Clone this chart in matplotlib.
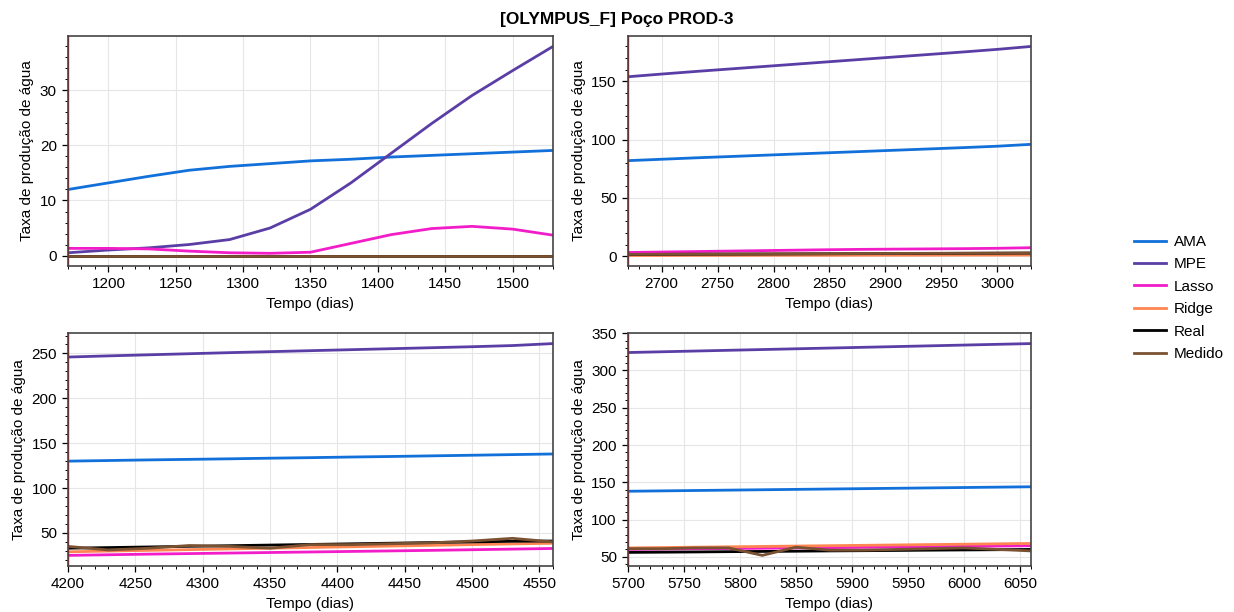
import matplotlib
matplotlib.use('Agg')
import matplotlib.pyplot as plt
from matplotlib.ticker import MultipleLocator

plt.rcParams['font.family'] = ['Liberation Sans', 'DejaVu Sans']
plt.rcParams['font.size'] = 11

# janelas de previsao (dias)
dias_1 = [1170, 1200, 1230, 1260, 1290, 1320, 1350, 1380, 1410, 1440, 1470, 1500, 1530]
dias_2 = [2670, 2700, 2730, 2760, 2790, 2820, 2850, 2880, 2910, 2940, 2970, 3000, 3030]
dias_3 = [4200, 4230, 4260, 4290, 4320, 4350, 4380, 4410, 4440, 4470, 4500, 4530, 4560]
dias_4 = [5700, 5730, 5760, 5790, 5820, 5850, 5880, 5910, 5940, 5970, 6000, 6030, 6060]

# janela 1
ama_1 = [12.0, 13.2, 14.4, 15.5, 16.2, 16.7, 17.2, 17.5, 17.9, 18.2, 18.5, 18.8, 19.1]
mpe_1 = [0.5, 1.0, 1.4, 2.0, 2.9, 5.0, 8.4, 13.2, 18.6, 24.0, 29.1, 33.6, 38.0]
lasso_1 = [1.3, 1.3, 1.2, 0.8, 0.5, 0.4, 0.6, 2.2, 3.8, 4.9, 5.3, 4.8, 3.7]
ridge_1 = [0.0, 0.0, 0.0, 0.0, 0.0, 0.0, 0.0, 0.0, 0.0, 0.0, 0.0, 0.0, 0.0]
real_1 = [0.0, 0.0, 0.0, 0.0, 0.0, 0.0, 0.0, 0.0, 0.0, 0.0, 0.0, 0.0, 0.0]
medido_1 = [0.0, 0.0, 0.0, 0.0, 0.0, 0.0, 0.0, 0.0, 0.0, 0.0, 0.0, 0.0, 0.0]

# janela 2
ama_2 = [82.0, 83.2, 84.4, 85.5, 86.6, 87.7, 88.8, 89.9, 91.0, 92.1, 93.2, 94.4, 96.0]
mpe_2 = [154.0, 156.3, 158.5, 160.6, 162.7, 164.8, 166.9, 169.0, 171.1, 173.2, 175.3, 177.5, 180.0]
lasso_2 = [3.2, 3.6, 4.0, 4.4, 4.8, 5.2, 5.6, 5.9, 6.1, 6.3, 6.5, 6.8, 7.3]
ridge_2 = [0.6, 0.6, 0.7, 0.7, 0.8, 0.8, 0.8, 0.9, 0.9, 0.9, 1.0, 1.0, 1.0]
real_2 = [1.5, 1.6, 1.7, 1.8, 1.9, 2.0, 2.1, 2.2, 2.3, 2.4, 2.5, 2.6, 2.7]
medido_2 = [1.6, 1.7, 1.8, 1.9, 2.0, 2.1, 2.2, 2.3, 2.4, 2.5, 2.6, 2.7, 2.8]

# janela 3
ama_3 = [130.0, 130.7, 131.4, 132.0, 132.6, 133.3, 133.9, 134.6, 135.2, 135.9, 136.6, 137.3, 138.0]
mpe_3 = [246.0, 247.3, 248.5, 249.7, 250.9, 252.0, 253.1, 254.2, 255.3, 256.4, 257.5, 258.8, 261.0]
lasso_3 = [25.0, 25.7, 26.4, 27.0, 27.6, 28.2, 28.8, 29.4, 30.0, 30.6, 31.3, 32.0, 32.7]
ridge_3 = [29.0, 29.8, 30.6, 31.4, 32.2, 33.0, 33.8, 34.6, 35.4, 36.2, 37.0, 37.8, 38.5]
real_3 = [33.0, 33.7, 34.4, 35.1, 35.8, 36.5, 37.2, 37.9, 38.6, 39.3, 40.0, 40.7, 41.0]
medido_3 = [35.0, 31.0, 33.0, 36.0, 35.0, 33.0, 37.0, 37.0, 38.0, 39.0, 41.0, 44.0, 40.0]

# janela 4
ama_4 = [138.0, 138.5, 139.0, 139.5, 140.0, 140.5, 141.0, 141.5, 142.0, 142.5, 143.0, 143.5, 144.0]
mpe_4 = [324.0, 325.0, 326.0, 327.0, 328.0, 329.0, 330.0, 331.0, 332.0, 333.0, 334.0, 335.0, 336.0]
lasso_4 = [60.0, 60.4, 60.8, 61.2, 61.6, 62.0, 62.4, 62.8, 63.2, 63.6, 64.0, 64.5, 65.0]
ridge_4 = [62.0, 62.5, 63.0, 63.5, 64.0, 64.5, 65.0, 65.5, 66.0, 66.5, 67.0, 67.5, 68.0]
real_4 = [56.0, 56.3, 56.6, 57.0, 57.3, 57.6, 58.0, 58.3, 58.6, 59.0, 59.3, 59.6, 60.0]
medido_4 = [61.0, 61.0, 62.0, 62.0, 52.0, 63.0, 59.0, 59.0, 60.0, 61.0, 62.0, 60.0, 58.0]

janelas = [
    (dias_1, ama_1, mpe_1, lasso_1, ridge_1, real_1, medido_1),
    (dias_2, ama_2, mpe_2, lasso_2, ridge_2, real_2, medido_2),
    (dias_3, ama_3, mpe_3, lasso_3, ridge_3, real_3, medido_3),
    (dias_4, ama_4, mpe_4, lasso_4, ridge_4, real_4, medido_4),
]

nomes = ['AMA', 'MPE', 'Lasso', 'Ridge', 'Real', 'Medido']
cores = ['#1170d9', '#5b3ea5', '#f21dc8', '#ff8552', '#000000', '#7a5232']

# posicoes dos eixos [left, bottom, width, height]
posicoes = [
    [0.0551, 0.5654, 0.3930, 0.3758],
    [0.5089, 0.5654, 0.3266, 0.3758],
    [0.0551, 0.0752, 0.3930, 0.3807],
    [0.5089, 0.0752, 0.3266, 0.3807],
]
major_y = [10, 50, 50, 50]
minor_y = [2, 10, 10, 10]

fig = plt.figure(figsize=(12.34, 6.12), dpi=100)

for pos, dados, my, mny in zip(posicoes, janelas, major_y, minor_y):
    ax = fig.add_axes(pos)
    dias = dados[0]
    for serie, nome, cor in zip(dados[1:], nomes, cores):
        ax.plot(dias, serie, color=cor, lw=2.0, label=nome)
    ax.axvline(dias[0], color='red', lw=1.0)
    ax.set_xlim(dias[0], dias[-1])
    ax.xaxis.set_major_locator(MultipleLocator(50))
    ax.xaxis.set_minor_locator(MultipleLocator(10))
    ax.yaxis.set_major_locator(MultipleLocator(my))
    ax.yaxis.set_minor_locator(MultipleLocator(mny))
    ax.grid(True, which='major', color='#e6e6e6', lw=0.8)
    ax.set_axisbelow(True)
    ax.tick_params(which='major', direction='out', length=4.5, width=0.9)
    ax.tick_params(which='minor', direction='out', length=2.5, width=0.7)
    for s in ax.spines.values():
        s.set_color('#444444')
        s.set_linewidth(1.2)
    ax.set_xlabel('Tempo (dias)')
    ax.set_ylabel('Taxa de produção de água')

handles, labels = ax.get_legend_handles_labels()
fig.legend(handles, labels, loc='center left', bbox_to_anchor=(0.908, 0.513),
           frameon=False, handlelength=2.1, handletextpad=0.5,
           labelspacing=0.55, fontsize=11)

fig.suptitle('[OLYMPUS_F] Poço PROD-3', fontweight='bold', fontsize=12.5, y=0.98)

fig.savefig('out.png', dpi=100)
